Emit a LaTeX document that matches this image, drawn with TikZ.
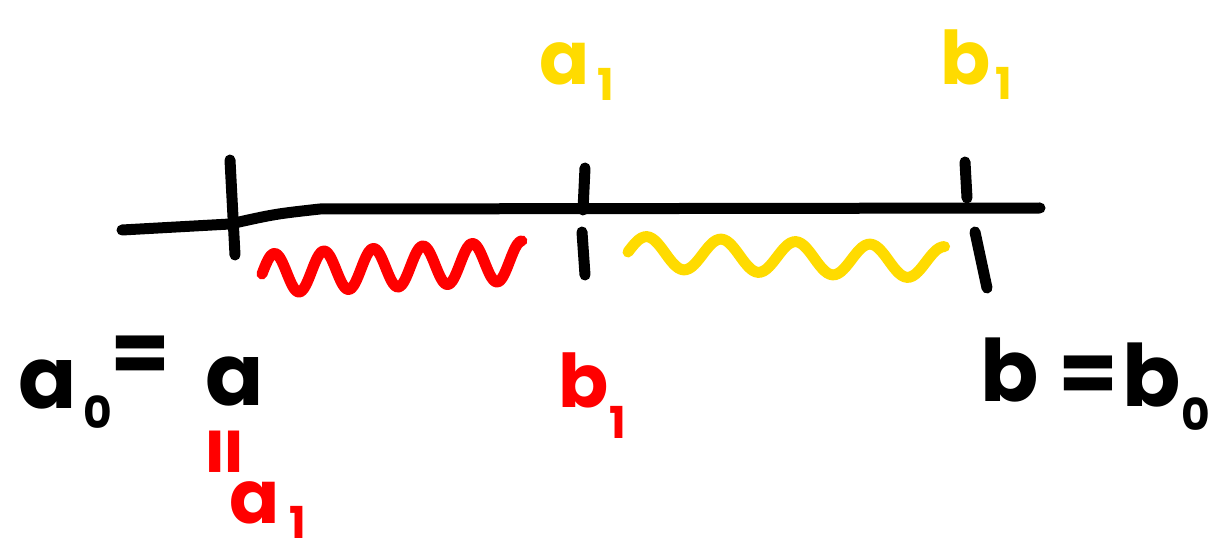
\documentclass[tikz,border=0pt]{standalone}
\usepackage{fontspec}
\setmainfont{Poppins}
\definecolor{rd}{RGB}{255,0,0}
\definecolor{yl}{RGB}{255,219,0}
\begin{document}
\begin{tikzpicture}[x=1pt,y=-1pt,
  pen/.style={line width=11pt,line cap=round,line join=round},
  big/.style={inner sep=0pt,font=\fontsize{86}{86}\selectfont\bfseries},
  mid/.style={inner sep=0pt,font=\fontsize{74}{74}\selectfont\bfseries},
  sub/.style={inner sep=0pt,font=\fontsize{44}{44}\selectfont\bfseries}]
\useasboundingbox (0,0) rectangle (1216,556);
% axis
\draw[pen] (122,230) -- (230,224) .. controls (275,214) .. (320,209) -- (1040,208);
% ticks
\draw[pen] (230,160) -- (235,255);
\draw[pen] (585,168) -- (583,210);
\draw[pen] (582,232) -- (585,275);
\draw[pen] (965,162) -- (967,198);
\draw[pen] (975,232) -- (987,288);
% squiggles
\draw[pen,rd] plot[smooth,domain=0:5.25,samples=120] ({262+49.5*\x},{274-2.5*\x-20*sin(\x*360)});
\draw[pen,yl] plot[smooth,domain=0:4.25,samples=120] ({628+74.5*\x},{252+2.5*\x-16*sin(\x*360)});
% black labels
\node[big] (a0a) at (48,385) {a};
\node[sub] (a0s) at (98,412) {0};
\node[big] (a0e) at (140,360) {=};
\node[big] (a0b) at (235,382) {a};
\node[big] (bb) at (1010,370) {b};
\node[big] (be) at (1088,380) {=};
\node[big] (bb0) at (1152,375) {b};
\node[sub] (bs0) at (1196,414) {0};
% red labels
\node[mid,rd] (rb) at (584,380) {b};
\node[sub,rd] (rb1) at (618,422) {1};
\node[mid,rd,rotate=90] (req) at (230,452) {=};
\node[mid,rd] (ra) at (255,503) {a};
\node[sub,rd] (ra1) at (298,522) {1};
% yellow labels
\node[mid,yl] (ya) at (565,64) {a};
\node[sub,yl] (ya1) at (606,84) {1};
\node[mid,yl] (yb) at (966,57) {b};
\node[sub,yl] (yb1) at (1004,83) {1};
\end{tikzpicture}
\end{document}
